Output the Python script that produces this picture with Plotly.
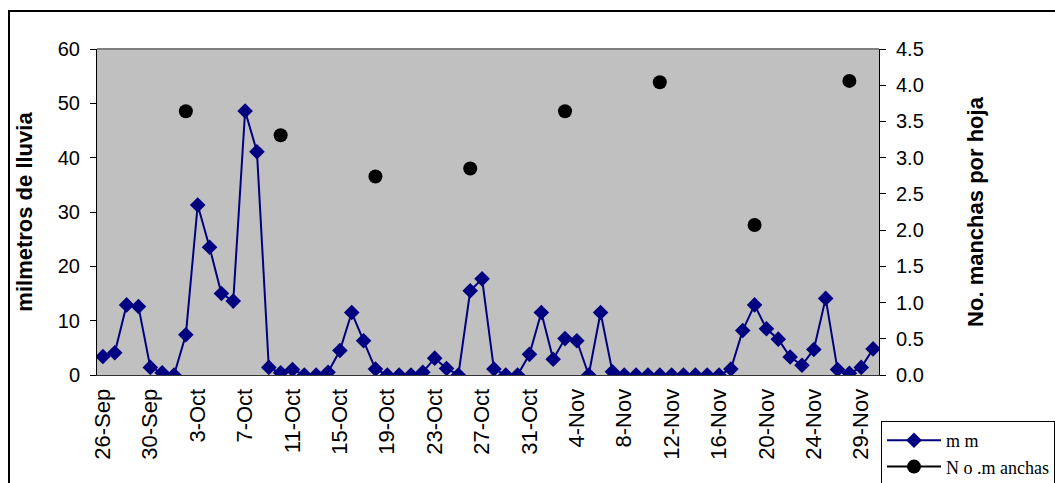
import plotly.graph_objects as go

# 66 daily observations (26-Sep .. 30-Nov); labels shown every 4th point
tick_positions = [0, 4, 8, 12, 16, 20, 24, 28, 32, 36, 40, 44, 48, 52, 56, 60, 64]
tick_labels = ["26-Sep", "30-Sep", "3-Oct", "7-Oct", "11-Oct", "15-Oct", "19-Oct",
               "23-Oct", "27-Oct", "31-Oct", "4-Nov", "8-Nov", "12-Nov", "16-Nov",
               "20-Nov", "24-Nov", "29-Nov"]

mm = [3.4, 4.1, 12.9, 12.6, 1.4, 0.4, 0.0, 7.4, 31.3, 23.5,
      15.0, 13.6, 48.6, 41.1, 1.4, 0.4, 1.0, 0.0, 0.0, 0.5,
      4.5, 11.5, 6.3, 1.1, 0.0, 0.0, 0.0, 0.5, 3.1, 1.2,
      0.0, 15.5, 17.7, 1.1, 0.0, 0.0, 3.8, 11.5, 2.9, 6.7,
      6.3, 0.0, 11.5, 0.6, 0.0, 0.0, 0.0, 0.0, 0.0, 0.0,
      0.0, 0.0, 0.0, 1.1, 8.2, 12.9, 8.5, 6.6, 3.3, 1.8,
      4.7, 14.1, 1.0, 0.3, 1.4, 4.8]

manchas_days = [7, 15, 23, 31, 39, 47, 55, 63]
manchas_vals = [3.64, 3.31, 2.74, 2.85, 3.64, 4.04, 2.07, 4.06]

x = list(range(len(mm)))
manchas = [None] * len(mm)
for d, v in zip(manchas_days, manchas_vals):
    manchas[d] = v

FONT = "Liberation Sans, Arial, sans-serif"

fig = go.Figure()
fig.add_trace(go.Scatter(
    x=x, y=mm, name="m m", mode="lines+markers", legendgroup="a",
    line=dict(color="#000080", width=2),
    marker=dict(symbol="diamond", size=12, color="#000080"),
    yaxis="y"))
fig.add_trace(go.Scatter(
    x=x, y=manchas, name="N o .m anchas", mode="lines+markers", legendgroup="b",
    connectgaps=False,
    line=dict(color="black", width=2),
    marker=dict(symbol="circle", size=14, color="black"),
    yaxis="y2"))

L, R, T, B = 97, 176, 49, 108
W, H = 1055, 483
pw = W - L - R
ph = H - T - B

def px(xp):
    return (xp - L) / pw

def py(yp):
    return (H - B - yp) / ph

fig.update_layout(
    width=W, height=H,
    margin=dict(l=L, r=R, t=T, b=B, autoexpand=False),
    paper_bgcolor="white",
    plot_bgcolor="#C0C0C0",
    font=dict(family=FONT, size=20, color="black"),
    showlegend=True,
    legend=dict(
        x=px(881), y=py(421), xanchor="left", yanchor="top",
        bordercolor="black", borderwidth=1, bgcolor="white",
        font=dict(family="Liberation Serif, serif", size=18, color="black"),
        itemwidth=54, tracegroupgap=0, entrywidth=200,
    ),
    xaxis=dict(
        range=[-0.5, len(mm) - 0.5], automargin=False,
        tickmode="array", tickvals=tick_positions, ticktext=tick_labels,
        tickangle=-90, ticks="outside", ticklen=4, tickcolor="rgba(0,0,0,0)",
        showgrid=False, zeroline=False,
        showline=True, linecolor="#333333", linewidth=1,
        tickfont=dict(size=22),
    ),
    yaxis=dict(
        range=[0, 60], dtick=10, tick0=0, automargin=False,
        ticks="outside", ticklen=6, tickcolor="black",
        showgrid=False, zeroline=False,
        showline=True, linecolor="black", linewidth=1,
        ticklabelstandoff=6,
        title=dict(text="<b>milmetros de lluvia</b>", font=dict(size=22), standoff=19),
    ),
    yaxis2=dict(
        range=[0, 4.5], dtick=0.5, tick0=0, tickformat=".1f", automargin=False,
        overlaying="y", side="right",
        ticks="outside", ticklen=6, tickcolor="black",
        showgrid=False, zeroline=False,
        showline=True, linecolor="black", linewidth=1,
        ticklabelstandoff=6,
        title=dict(text="<b>No. manchas por hoja</b>", font=dict(size=22), standoff=44),
    ),
    shapes=[
        dict(type="line", xref="paper", yref="paper", x0=0, x1=1, y0=1, y1=1,
             line=dict(color="#808080", width=2), layer="below"),
        dict(type="rect", xref="paper", yref="paper",
             x0=px(9), x1=px(1070), y0=py(11), y1=py(495),
             line=dict(color="black", width=2), fillcolor="rgba(0,0,0,0)",
             layer="above"),
    ],
)

fig.write_html("out.html", config={"displayModeBar": False},
               post_script="document.body.style.margin='0';")
